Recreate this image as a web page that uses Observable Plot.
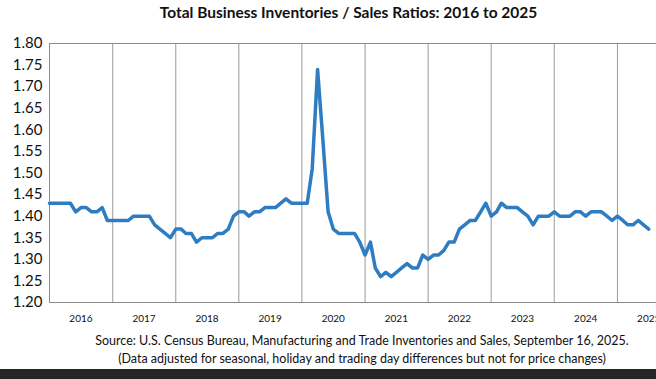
<!DOCTYPE html>
<html><head><meta charset="utf-8">
<script src="https://cdn.jsdelivr.net/npm/d3@7"></script>
<script src="https://cdn.jsdelivr.net/npm/@observablehq/plot@0.6"></script>
<style>
html,body{margin:0;padding:0;background:#fff;overflow:hidden;width:656px;height:379px;}
body{position:relative;font-family:Lato,"Open Sans",sans-serif;color:#111;}
#title{position:absolute;left:0;width:697px;top:3px;text-align:center;font-weight:bold;font-size:15.5px;line-height:18px;white-space:nowrap;}
#chart{position:absolute;left:0;top:24px;width:690px;}
#chart svg{max-width:none !important;}
#src{position:absolute;left:0;width:724px;top:332px;text-align:center;font-size:12.5px;line-height:18px;white-space:nowrap;}
#band{position:absolute;left:0;width:656px;top:369px;height:10px;background:#262626;}
</style></head>
<body>
<div id="title">Total Business Inventories / Sales Ratios: 2016 to 2025</div>
<div id="chart"></div>
<div id="src">Source: U.S. Census Bureau, Manufacturing and Trade Inventories and Sales, September 16, 2025.<br>(Data adjusted for seasonal, holiday and trading day differences but not for price changes)</div>
<div id="band"></div>
<script>
const years = [2016, 2017, 2018, 2019, 2020, 2021, 2022, 2023, 2024, 2025];
const ratios2016 = [1.43,1.43,1.43,1.43,1.43,1.41,1.42,1.42,1.41,1.41,1.42,1.39];
const ratios2017 = [1.39,1.39,1.39,1.39,1.40,1.40,1.40,1.40,1.38,1.37,1.36,1.35];
const ratios2018 = [1.37,1.37,1.36,1.36,1.34,1.35,1.35,1.35,1.36,1.36,1.37,1.40];
const ratios2019 = [1.41,1.41,1.40,1.41,1.41,1.42,1.42,1.42,1.43,1.44,1.43,1.43];
const ratios2020 = [1.43,1.43,1.51,1.74,1.58,1.41,1.37,1.36,1.36,1.36,1.36,1.34];
const ratios2021 = [1.31,1.34,1.28,1.26,1.27,1.26,1.27,1.28,1.29,1.28,1.28,1.31];
const ratios2022 = [1.30,1.31,1.31,1.32,1.34,1.34,1.37,1.38,1.39,1.39,1.41,1.43];
const ratios2023 = [1.40,1.41,1.43,1.42,1.42,1.42,1.41,1.40,1.38,1.40,1.40,1.40];
const ratios2024 = [1.41,1.40,1.40,1.40,1.41,1.41,1.40,1.41,1.41,1.41,1.40,1.39];
const ratios2025 = [1.40,1.39,1.38,1.38,1.39,1.38,1.37];
const yTicks = [1.20,1.25,1.30,1.35,1.40,1.45,1.50,1.55,1.60,1.65,1.70,1.75,1.80];

const byYear = [ratios2016, ratios2017, ratios2018, ratios2019, ratios2020, ratios2021, ratios2022, ratios2023, ratios2024, ratios2025];
const data = [];
byYear.forEach((arr, k) => arr.forEach((v, m) => data.push({date: new Date(Date.UTC(years[k], m, 1)), ratio: v})));
const yearStarts = years.slice(1).map(y => new Date(Date.UTC(y, 0, 1)));
const midYears = years.map(y => new Date(Date.UTC(y, 6, 1)));

const chart = Plot.plot({
  width: 690,
  height: 304,
  marginLeft: 49,
  marginRight: 10,
  marginTop: 19,
  marginBottom: 26,
  style: {fontFamily: "Lato, 'Open Sans', sans-serif", color: "#111", background: "#fff", overflow: "visible", maxWidth: "none"},
  x: {type: "utc", domain: [new Date(Date.UTC(2016, 0, 1)), new Date(Date.UTC(2026, 0, 1))]},
  y: {domain: [1.20, 1.80]},
  marks: [
    Plot.ruleX(yearStarts, {stroke: "#9a9a9a", strokeWidth: 1}),
    Plot.frame({stroke: "#8a8a8a", strokeWidth: 1}),
    Plot.axisY(yTicks, {tickSize: 0, tickPadding: 7, tickFormat: d => d.toFixed(2), fontSize: 15, label: null}),
    Plot.axisX(midYears, {tickSize: 0, tickPadding: 12, tickFormat: d3.utcFormat("%Y"), fontSize: 10, label: null}),
    Plot.line(data, {x: "date", y: "ratio", stroke: "#2e7dc2", strokeWidth: 3.5, strokeLinejoin: "round", strokeLinecap: "round"})
  ]
});
chart.style.maxWidth = "none";
document.getElementById("chart").appendChild(chart);
</script>
</body></html>
